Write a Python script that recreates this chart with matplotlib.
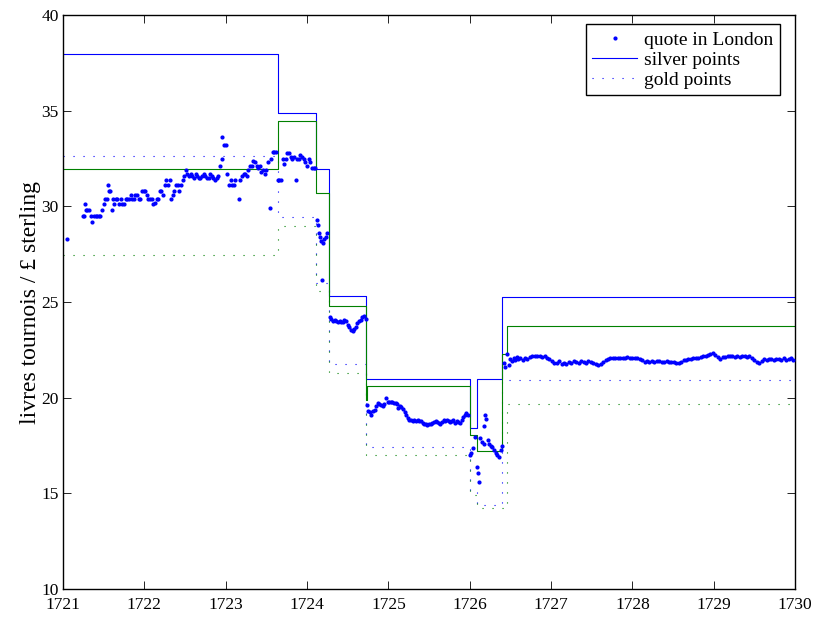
import matplotlib
matplotlib.use("Agg")
import matplotlib.pyplot as plt

plt.rcParams['font.family'] = ['Liberation Serif', 'DejaVu Serif']

# London quotes of the Paris exchange (livres tournois per pound sterling)
quote_year = [
    1721.05,
    1721.24, 1721.26, 1721.27, 1721.28, 1721.30, 1721.32, 1721.34, 1721.36, 1721.38, 1721.40,
    1721.42, 1721.44, 1721.46, 1721.48, 1721.50, 1721.52, 1721.54, 1721.55, 1721.56, 1721.58,
    1721.60, 1721.61, 1721.63, 1721.65, 1721.67, 1721.69, 1721.71, 1721.73, 1721.75, 1721.77,
    1721.79, 1721.81, 1721.83, 1721.85, 1721.87, 1721.89, 1721.91, 1721.93, 1721.95, 1721.97,
    1721.99, 1722.01, 1722.03, 1722.05, 1722.07, 1722.09, 1722.11, 1722.13, 1722.15, 1722.17,
    1722.19, 1722.21, 1722.23, 1722.25, 1722.27, 1722.29, 1722.31, 1722.33, 1722.35, 1722.37,
    1722.39, 1722.41, 1722.43, 1722.45, 1722.47, 1722.49, 1722.51, 1722.53, 1722.55, 1722.57,
    1722.59, 1722.61, 1722.63, 1722.65, 1722.67, 1722.69, 1722.71, 1722.73, 1722.75, 1722.77,
    1722.79, 1722.81, 1722.83, 1722.85, 1722.87, 1722.89, 1722.91, 1722.93, 1722.95, 1722.96,
    1722.98, 1723.00, 1723.02, 1723.04, 1723.06, 1723.08, 1723.10, 1723.12, 1723.16, 1723.18,
    1723.20, 1723.22, 1723.24, 1723.26, 1723.28, 1723.30, 1723.32, 1723.34, 1723.36, 1723.38,
    1723.40, 1723.42, 1723.44, 1723.46, 1723.48, 1723.50, 1723.52, 1723.55, 1723.56, 1723.58,
    1723.60, 1723.62,
    1723.64, 1723.66, 1723.68, 1723.70, 1723.72, 1723.74, 1723.76, 1723.78, 1723.80, 1723.82,
    1723.84, 1723.87, 1723.88, 1723.90, 1723.92, 1723.94, 1723.96, 1723.98, 1724.00, 1724.02,
    1724.04, 1724.06, 1724.08, 1724.10,
    1724.12, 1724.13, 1724.15, 1724.16, 1724.17, 1724.19, 1724.20, 1724.21, 1724.23, 1724.25,
    1724.28, 1724.30, 1724.32, 1724.34, 1724.36, 1724.38, 1724.40, 1724.42, 1724.44, 1724.46,
    1724.48, 1724.50, 1724.52, 1724.54, 1724.56, 1724.58, 1724.60, 1724.62, 1724.64, 1724.66,
    1724.68, 1724.70, 1724.72,
    1724.74, 1724.75, 1724.77, 1724.79, 1724.81, 1724.83, 1724.85, 1724.87, 1724.89, 1724.91,
    1724.93, 1724.95, 1724.97, 1724.99, 1725.01, 1725.03, 1725.05, 1725.07, 1725.09, 1725.11,
    1725.12, 1725.14, 1725.16, 1725.18, 1725.20, 1725.22, 1725.24, 1725.26, 1725.28, 1725.30,
    1725.32, 1725.34, 1725.36, 1725.38, 1725.40, 1725.42, 1725.44, 1725.46, 1725.48, 1725.50,
    1725.52, 1725.54, 1725.56, 1725.58, 1725.60, 1725.62, 1725.64, 1725.66, 1725.68, 1725.70,
    1725.72, 1725.74, 1725.76, 1725.78, 1725.80, 1725.82, 1725.84, 1725.86, 1725.88, 1725.90,
    1725.92, 1725.94, 1725.96, 1725.98,
    1726.00, 1726.02, 1726.04, 1726.07, 1726.09, 1726.10, 1726.11, 1726.13, 1726.15, 1726.17,
    1726.18, 1726.19, 1726.20, 1726.22, 1726.24, 1726.26, 1726.28, 1726.30, 1726.32, 1726.34,
    1726.36, 1726.38, 1726.40,
    1726.42, 1726.44, 1726.46, 1726.48, 1726.50, 1726.52, 1726.54, 1726.56, 1726.58, 1726.60,
    1726.62, 1726.65, 1726.68, 1726.71, 1726.74, 1726.77, 1726.80, 1726.83, 1726.86, 1726.89,
    1726.92, 1726.95, 1726.98, 1727.01, 1727.04, 1727.07, 1727.10, 1727.13, 1727.16, 1727.19,
    1727.22, 1727.25, 1727.28, 1727.31, 1727.34, 1727.37, 1727.40, 1727.43, 1727.46, 1727.49,
    1727.52, 1727.55, 1727.58, 1727.61, 1727.64, 1727.67, 1727.70, 1727.73, 1727.76, 1727.79,
    1727.82, 1727.85, 1727.88, 1727.91, 1727.94, 1727.97, 1728.00, 1728.03, 1728.06, 1728.09,
    1728.12, 1728.15, 1728.18, 1728.21, 1728.24, 1728.27, 1728.30, 1728.33, 1728.36, 1728.39,
    1728.42, 1728.45, 1728.48, 1728.51, 1728.54, 1728.57, 1728.60, 1728.63, 1728.66, 1728.69,
    1728.72, 1728.75, 1728.78, 1728.81, 1728.84, 1728.87, 1728.90, 1728.93, 1728.96, 1728.99,
    1729.02, 1729.05, 1729.08, 1729.11, 1729.14, 1729.17, 1729.20, 1729.23, 1729.26, 1729.29,
    1729.32, 1729.35, 1729.38, 1729.41, 1729.44, 1729.47, 1729.50, 1729.53, 1729.56, 1729.59,
    1729.62, 1729.65, 1729.68, 1729.71, 1729.74, 1729.77, 1729.80, 1729.83, 1729.86, 1729.89,
    1729.92, 1729.95, 1729.98,
]
quote_value = [
    28.3,
    29.5, 29.5, 30.1, 29.8, 29.8, 29.8, 29.5, 29.2, 29.5, 29.5,
    29.5, 29.5, 29.5, 29.8, 30.1, 30.4, 30.4, 31.1, 30.8, 30.8,
    29.8, 30.4, 30.1, 30.4, 30.4, 30.1, 30.4, 30.1, 30.1, 30.4,
    30.4, 30.4, 30.6, 30.4, 30.4, 30.6, 30.6, 30.4, 30.4, 30.8,
    30.8, 30.8, 30.6, 30.4, 30.4, 30.4, 30.1, 30.2, 30.4, 30.4,
    30.8, 30.8, 30.6, 31.1, 31.4, 31.1, 31.4, 30.4, 30.6, 30.8,
    31.1, 31.1, 30.8, 31.1, 31.4, 31.6, 31.9, 31.7, 31.6, 31.7,
    31.6, 31.5, 31.7, 31.6, 31.5, 31.5, 31.6, 31.7, 31.6, 31.5,
    31.5, 31.7, 31.6, 31.5, 31.4, 31.5, 31.6, 32.1, 32.5, 33.65,
    33.2, 33.2, 31.7, 31.1, 31.4, 31.1, 31.1, 31.4, 30.4, 31.4,
    31.6, 31.7, 31.7, 31.6, 31.9, 32.1, 32.1, 32.35, 32.3, 32.1,
    32.0, 32.1, 31.8, 31.9, 31.7, 31.9, 32.3, 29.9, 32.5, 32.85,
    32.85, 32.85,
    31.4, 31.4, 31.4, 32.5, 32.2, 32.5, 32.8, 32.8, 32.6, 32.5,
    32.6, 31.4, 32.5, 32.5, 32.7, 32.6, 32.5, 32.3, 32.1, 32.5,
    32.3, 32.0, 32.0, 32.0,
    29.3, 29.0, 28.6, 28.4, 28.2, 26.15, 28.1, 28.3, 28.4, 28.6,
    24.2, 24.1, 24.0, 24.05, 24.0, 23.95, 24.0, 23.95, 23.95, 24.05,
    24.0, 23.8, 23.7, 23.55, 23.5, 23.6, 23.7, 23.9, 24.0, 24.05,
    24.2, 24.25, 24.1,
    19.6, 19.3, 19.27, 19.1, 19.3, 19.35, 19.55, 19.7, 19.65, 19.6,
    19.55, 19.65, 19.97, 19.8, 19.8, 19.75, 19.8, 19.7, 19.7, 19.65,
    19.45, 19.55, 19.5, 19.4, 19.25, 19.1, 18.95, 18.85, 18.85, 18.8,
    18.85, 18.8, 18.85, 18.8, 18.8, 18.7, 18.65, 18.6, 18.55, 18.6,
    18.65, 18.7, 18.75, 18.8, 18.75, 18.7, 18.6, 18.75, 18.85, 18.8,
    18.85, 18.8, 18.75, 18.8, 18.85, 18.7, 18.8, 18.75, 18.7, 18.85,
    19.0, 19.1, 19.2, 19.1,
    17.0, 17.1, 17.35, 17.95, 16.4, 16.05, 15.6, 17.9, 17.7, 17.6,
    18.5, 19.1, 18.9, 17.8, 17.6, 17.5, 17.4, 17.25, 17.1, 17.0,
    16.9, 17.25, 17.5,
    21.8, 21.6, 22.3, 21.7, 22.0, 21.9, 22.1, 21.95, 22.15, 22.0,
    22.1, 21.95, 22.1, 22.0, 22.15, 22.2, 22.2, 22.2, 22.2, 22.15,
    22.2, 22.1, 22.0, 21.9, 21.8, 21.8, 21.9, 21.75, 21.8, 21.75,
    21.85, 21.8, 21.9, 21.85, 21.8, 21.9, 21.85, 21.8, 21.9, 21.85,
    21.8, 21.75, 21.7, 21.75, 21.85, 21.95, 22.0, 22.05, 22.05, 22.1,
    22.05, 22.1, 22.1, 22.1, 22.15, 22.1, 22.1, 22.1, 22.05, 22.0,
    21.95, 21.85, 21.9, 21.85, 21.9, 21.85, 21.9, 21.9, 21.85, 21.85,
    21.9, 21.85, 21.85, 21.85, 21.8, 21.8, 21.85, 21.95, 21.95, 22.0,
    22.0, 22.05, 22.1, 22.05, 22.15, 22.2, 22.2, 22.25, 22.3, 22.35,
    22.25, 22.15, 22.0, 22.15, 22.15, 22.2, 22.2, 22.2, 22.15, 22.2,
    22.15, 22.2, 22.2, 22.15, 22.2, 22.05, 21.95, 21.85, 21.8, 21.9,
    22.0, 21.95, 22.0, 22.0, 21.95, 22.0, 22.0, 21.95, 22.05, 21.95,
    22.0, 22.05, 21.95,
]

# silver points (solid): upper in blue, lower in green
silver_hi_year = [1721, 1723.64, 1724.11, 1724.27, 1724.73, 1726.0, 1726.09, 1726.40, 1730]
silver_hi_value = [37.95, 34.9, 31.95, 25.3, 21.0, 18.4, 21.0, 25.25, 25.25]
silver_lo_year = [1721, 1723.64, 1724.11, 1724.27, 1724.72, 1724.74, 1726.0, 1726.09, 1726.40, 1726.46, 1730]
silver_lo_value = [31.95, 34.45, 30.7, 24.8, 19.9, 20.6, 18.05, 17.2, 22.3, 23.75, 23.75]

# gold points (dotted): upper in blue, lower in green
gold_hi_year = [1721, 1723.64, 1724.11, 1724.27, 1724.73, 1726.0, 1726.09, 1726.40, 1730]
gold_hi_value = [32.65, 29.45, 26.0, 21.75, 17.4, 15.2, 14.4, 20.9, 20.9]
gold_lo_year = [1721, 1723.64, 1724.11, 1724.27, 1724.73, 1726.0, 1726.09, 1726.46, 1730]
gold_lo_value = [27.45, 28.95, 25.6, 21.3, 17.0, 14.9, 14.25, 19.65, 19.65]

blue = (0, 0, 1)
green = (0, 0.5, 0)
dotted = (0, (1, 8))

fig = plt.figure(figsize=(8.16, 6.21), dpi=100)
ax = fig.add_axes([0.0772, 0.0515, 0.8971, 0.9243])

ax.plot(quote_year, quote_value, '.', color=blue, markersize=4, label='quote in London', zorder=3)
ax.step(silver_hi_year, silver_hi_value, where='post', color=blue, lw=0.8, label='silver points')
ax.step(gold_hi_year, gold_hi_value, where='post', color=blue, lw=0.8, ls=dotted, label='gold points')
ax.step(silver_lo_year, silver_lo_value, where='post', color=green, lw=0.8)
ax.step(gold_lo_year, gold_lo_value, where='post', color=green, lw=0.8, ls=dotted)

ax.set_xlim(1721, 1730)
ax.set_ylim(10, 40)
ax.set_xticks(range(1721, 1731))
ax.set_yticks(range(10, 41, 5))
ax.tick_params(direction='in', top=True, right=True, length=6, width=0.6, labelsize=12.5)
ax.tick_params(axis='x', pad=6)
ax.tick_params(axis='y', pad=3)
for s in ax.spines.values():
    s.set_linewidth(1.0)
ax.set_ylabel('livres tournois / £ sterling', fontsize=17, labelpad=0)

leg = ax.legend(loc='upper right', bbox_to_anchor=(0.9795, 0.984), fontsize=14,
                fancybox=False, framealpha=1, edgecolor='black', borderaxespad=0,
                handlelength=2.3, borderpad=0.35, labelspacing=0.12,
                handletextpad=0.35, numpoints=1)
leg.get_frame().set_linewidth(1.0)

fig.savefig('out.png', dpi=100)
